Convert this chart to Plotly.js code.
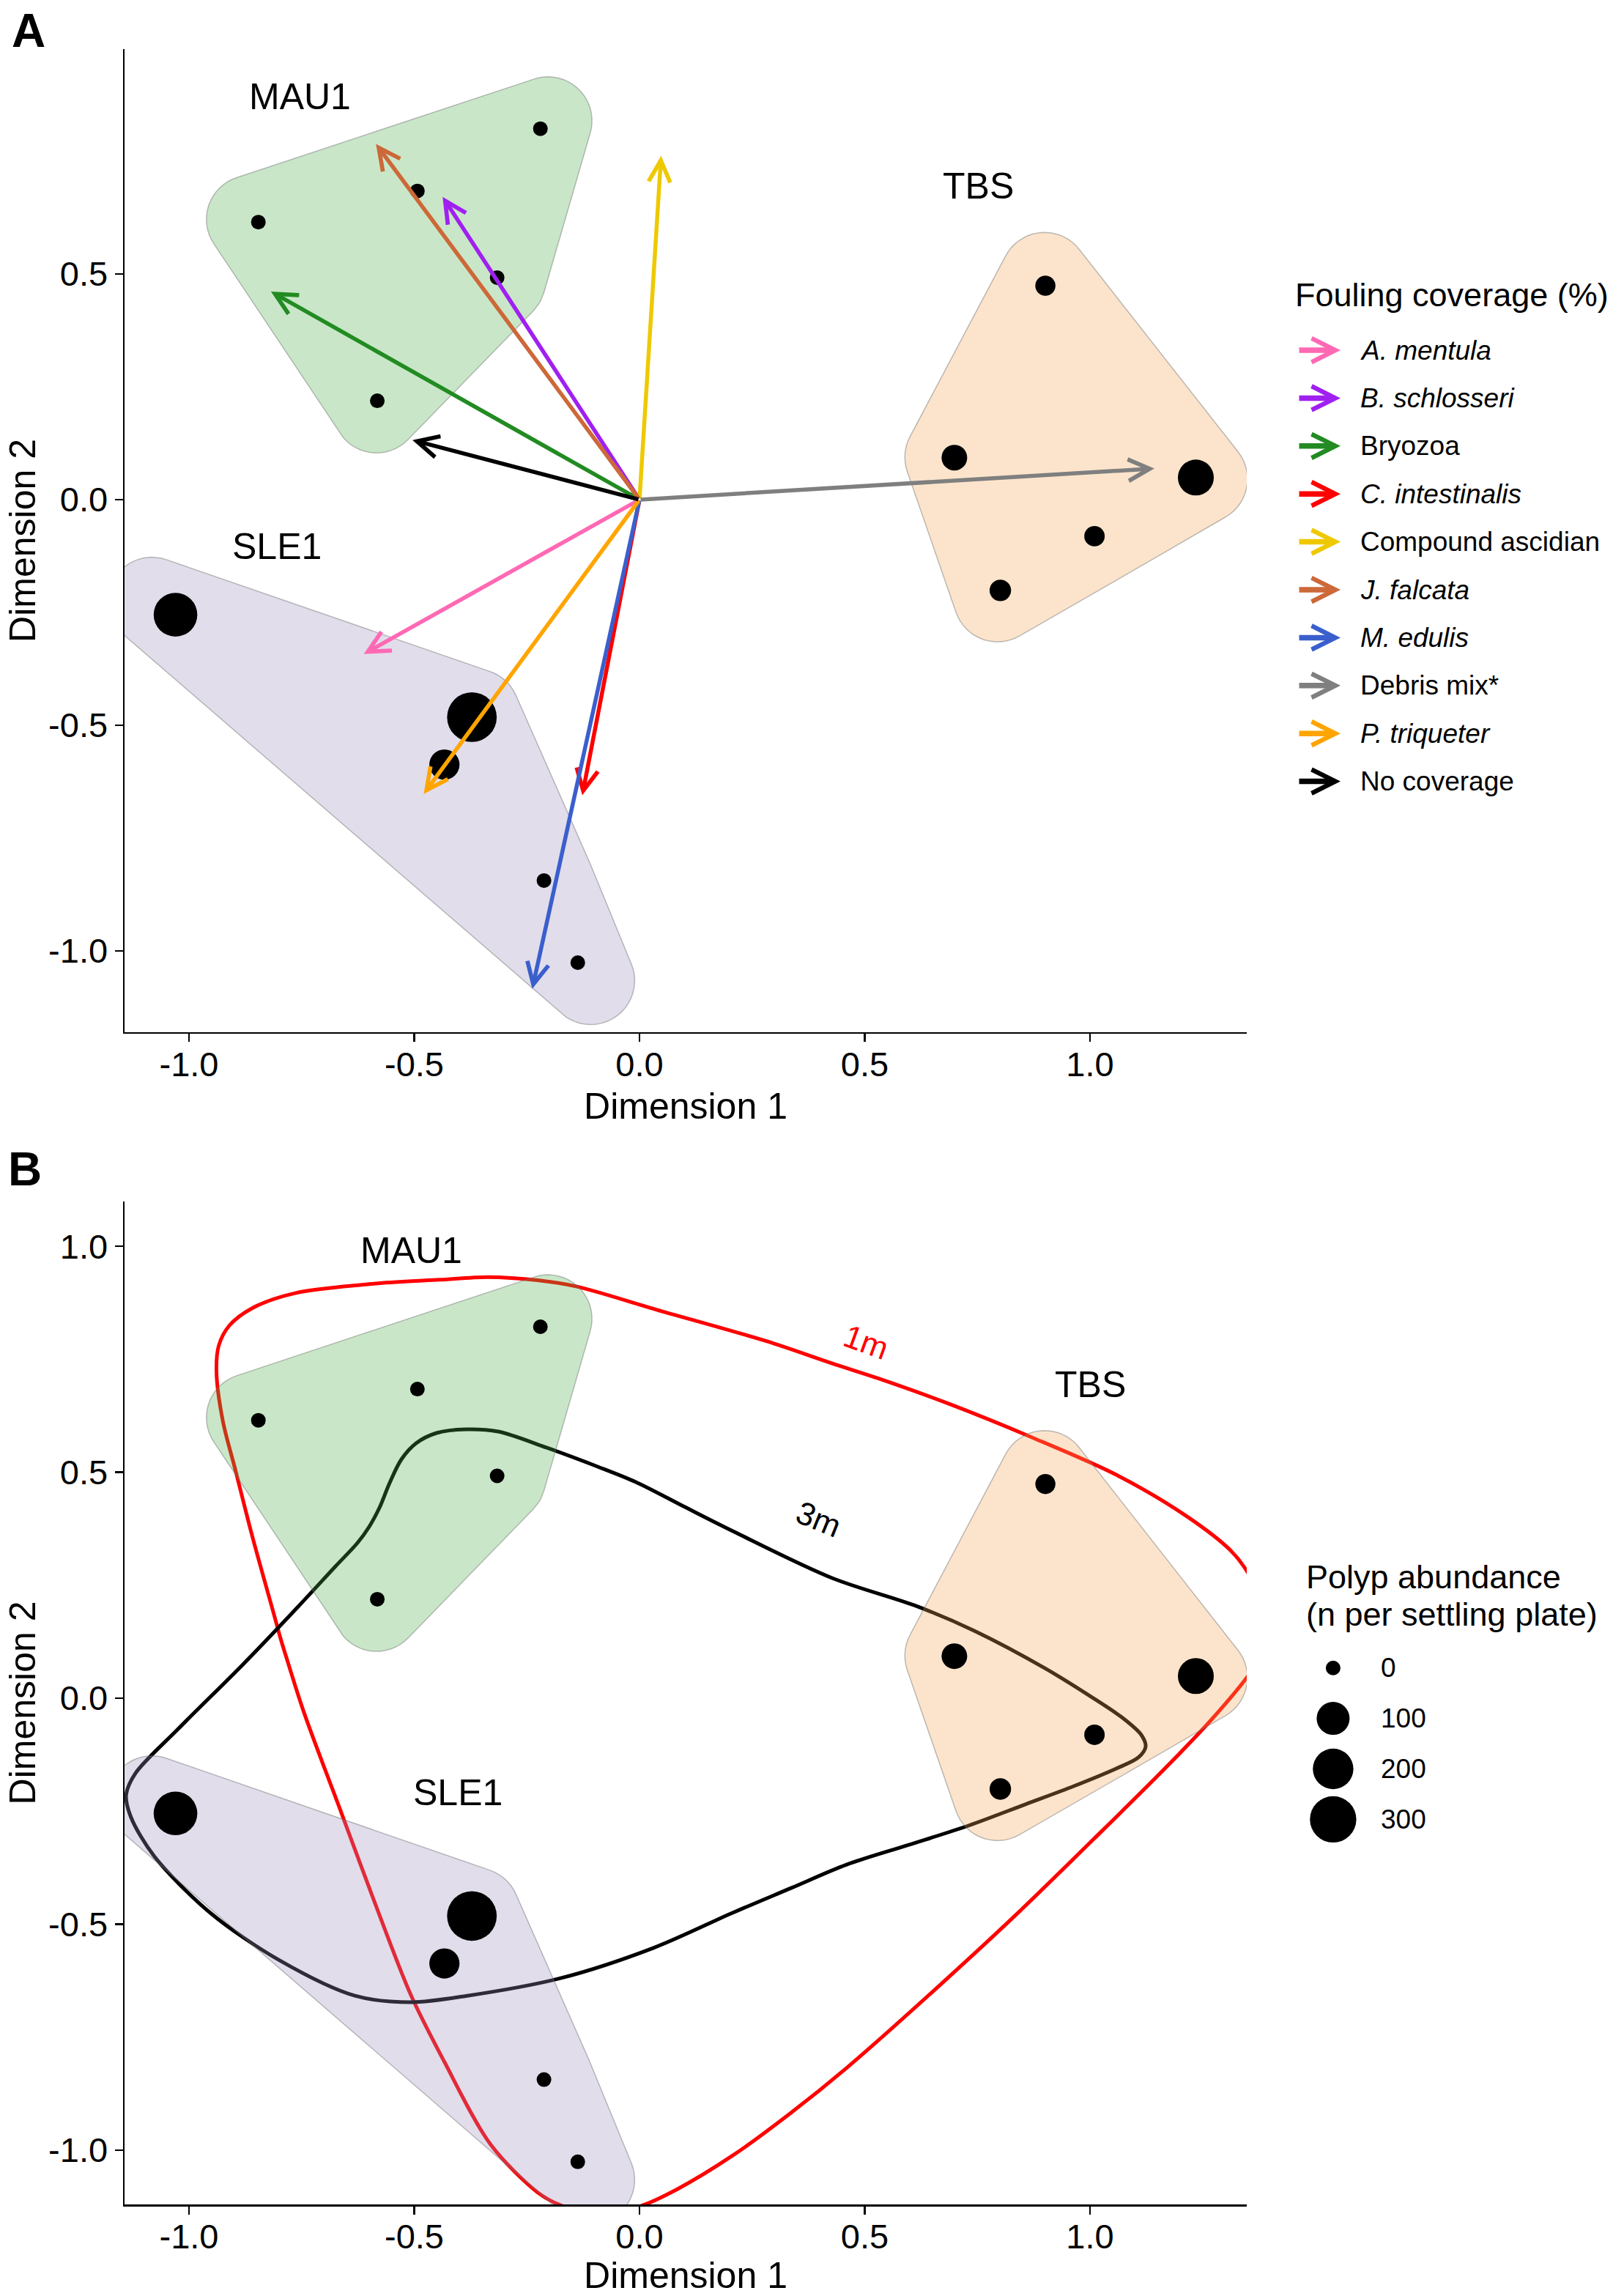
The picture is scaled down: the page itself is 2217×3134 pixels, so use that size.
<!DOCTYPE html>
<html><head><meta charset="utf-8">
<script src="https://cdn.plot.ly/plotly-3.0.1.min.js"></script>
<style>html,body{margin:0;padding:0;background:#fff}</style>
</head><body><div id="chart" style="width:2217px;height:3134px"></div>
<script>
// ---------------- DATA ----------------
const tickVals = [-1, -0.5, 0, 0.5, 1];
const tickLabels = ['-1.0', '-0.5', '0.0', '0.5', '1.0'];

const siteNames = ['MAU1', 'TBS', 'SLE1'];
const siteMAU1_x = [-0.220, -0.846, -0.493, -0.316, -0.582];
const siteMAU1_y = [0.822, 0.615, 0.684, 0.492, 0.219];
const siteMAU1_polyps = [0, 0, 0, 0, 0];
const siteTBS_x = [0.901, 0.699, 1.235, 1.010, 0.801];
const siteTBS_y = [0.474, 0.093, 0.049, -0.081, -0.201];
const siteTBS_polyps = [9, 36, 135, 10, 14];
const siteSLE1_x = [-1.030, -0.372, -0.433, -0.212, -0.137];
const siteSLE1_y = [-0.255, -0.482, -0.587, -0.844, -1.026];
const siteSLE1_polyps = [251, 365, 72, 0, 0];

const foulingNames = ['A. mentula', 'B. schlosseri', 'Bryozoa', 'C. intestinalis', 'Compound ascidian',
  'J. falcata', 'M. edulis', 'Debris mix*', 'P. triqueter', 'No coverage'];
const foulingItalic = [true, true, false, true, false, true, true, false, true, false];
const foulingX = [-0.612, -0.437, -0.818, -0.127, 0.048, -0.585, -0.238, 1.143, -0.479, -0.504];
const foulingY = [-0.342, 0.671, 0.461, -0.655, 0.762, 0.788, -1.084, 0.069, -0.652, 0.132];
const foulingColors = ['#FF69B4', '#A020F0', '#228B22', '#FF0000', '#EEC900',
  '#CD6839', '#3A5FCD', '#7F7F7F', '#FFA500', '#000000'];

const siteLabelA_x = [-0.754, 0.752, -0.805];
const siteLabelA_y = [0.893, 0.695, -0.104];
const siteLabelB_x = [-0.506, 1.001, -0.403];
const siteLabelB_y = [0.990, 0.694, -0.209];

const curve1m_x = [-0.337,-0.226,-0.139,0.037,0.282,0.427,0.532,0.688,0.869,1.059,1.217,1.312,1.349,1.390,1.390,1.349,1.270,1.165,1.007,0.837,0.649,0.460,0.333,0.207,0.083,0.002,-0.086,-0.175,-0.227,-0.331,-0.434,-0.507,-0.590,-0.662,-0.745,-0.785,-0.797,-0.813,-0.860,-0.897,-0.925,-0.939,-0.934,-0.911,-0.860,-0.766,-0.580,-0.444,-0.337];
const curve1m_y = [0.932,0.925,0.911,0.860,0.790,0.741,0.707,0.651,0.578,0.494,0.401,0.327,0.280,0.191,0.110,0.047,-0.047,-0.157,-0.313,-0.478,-0.651,-0.818,-0.920,-1.012,-1.087,-1.124,-1.141,-1.122,-1.093,-0.987,-0.803,-0.658,-0.446,-0.253,-0.031,0.094,0.133,0.191,0.360,0.505,0.614,0.722,0.780,0.824,0.863,0.896,0.918,0.926,0.932];
const curve3m_x = [0.4276,0.6163,0.7431,0.9008,1.0065,1.0748,1.1138,1.1236,1.1073,1.0585,0.9642,0.8569,0.7301,0.5967,0.4589,0.3366,0.2065,0.0322,-0.1750,-0.3824,-0.5070,-0.6315,-0.7974,-0.9528,-1.0774,-1.1291,-1.1395,-1.1187,-1.0254,-0.8803,-0.7561,-0.6748,-0.6260,-0.6000,-0.5772,-0.5545,-0.5285,-0.4959,-0.4504,-0.3854,-0.3138,-0.2065,-0.0927,-0.0081,0.0992,0.2098,0.4276];
const curve3m_y = [0.2659,0.2033,0.1492,0.0658,0.0006,-0.0454,-0.0811,-0.1070,-0.1313,-0.1556,-0.1946,-0.2348,-0.2821,-0.3249,-0.3687,-0.4202,-0.4750,-0.5522,-0.6196,-0.6586,-0.6728,-0.6586,-0.5811,-0.4750,-0.3495,-0.2626,-0.2140,-0.1660,-0.0694,0.0746,0.2043,0.2918,0.3437,0.3794,0.4215,0.4767,0.5285,0.5642,0.5869,0.5950,0.5901,0.5545,0.5123,0.4783,0.4238,0.3684,0.2659];
const depthLabels = ['1m', '3m'];
const depthLabel_x = [0.503, 0.398];
const depthLabel_y = [0.789, 0.396];

const sizeLegendValues = [0, 100, 200, 300];
const sizeLegendLabels = ['0', '100', '200', '300'];

// ---------------- STYLE / HELPERS ----------------
const FONT = 'Liberation Sans, Arial, sans-serif';
const hullFill = ['rgba(77,175,74,0.3)', 'rgba(245,165,85,0.3)', 'rgba(155,141,188,0.3)'];
function pointSize(v) { return 20 + 2.5 * Math.sqrt(v); }

// convex hull, expanded (miter D1 + rounded R) in pixel space
function expandedHull(xs, ys) {
  const SX = 615, SY = 616, D1 = 7, R = 60, STEP = 0.12;
  let pts = xs.map((x, i) => [x * SX, ys[i] * SY]);
  pts.sort((a, b) => a[0] - b[0] || a[1] - b[1]);
  const cross = (o, a, b) => (a[0]-o[0])*(b[1]-o[1]) - (a[1]-o[1])*(b[0]-o[0]);
  const lower = [];
  for (const p of pts) { while (lower.length >= 2 && cross(lower[lower.length-2], lower[lower.length-1], p) <= 0) lower.pop(); lower.push(p); }
  const upper = [];
  for (let i = pts.length - 1; i >= 0; i--) { const p = pts[i]; while (upper.length >= 2 && cross(upper[upper.length-2], upper[upper.length-1], p) <= 0) upper.pop(); upper.push(p); }
  upper.pop(); lower.pop();
  const hull = lower.concat(upper);
  const n = hull.length, ox = [], oy = [];
  for (let i = 0; i < n; i++) {
    const p = hull[(i-1+n)%n], v = hull[i], q = hull[(i+1)%n];
    const e1 = [v[0]-p[0], v[1]-p[1]], e2 = [q[0]-v[0], q[1]-v[1]];
    const l1 = Math.hypot(e1[0], e1[1]), l2 = Math.hypot(e2[0], e2[1]);
    const n1 = [e1[1]/l1, -e1[0]/l1], n2 = [e2[1]/l2, -e2[0]/l2];
    const dot = n1[0]*n2[0] + n1[1]*n2[1];
    const w = [v[0] + D1*(n1[0]+n2[0])/(1+dot), v[1] + D1*(n1[1]+n2[1])/(1+dot)];
    let a1 = Math.atan2(n1[1], n1[0]), a2 = Math.atan2(n2[1], n2[0]);
    while (a2 < a1) a2 += 2*Math.PI;
    const span = a2 - a1;
    const nseg = Math.max(1, Math.ceil(span / STEP));
    for (let k = 0; k <= nseg; k++) {
      const a = a1 + span*k/nseg;
      ox.push((w[0] + R*Math.cos(a))/SX); oy.push((w[1] + R*Math.sin(a))/SY);
    }
  }
  ox.push(ox[0]); oy.push(oy[0]);
  return {x: ox, y: oy};
}

const sitesX = [siteMAU1_x, siteTBS_x, siteSLE1_x];
const sitesY = [siteMAU1_y, siteTBS_y, siteSLE1_y];
const sitesP = [siteMAU1_polyps, siteTBS_polyps, siteSLE1_polyps];

const traces = [];
// Panel B curves (drawn under the hulls)
traces.push({type:'scatter', mode:'lines', x:curve1m_x, y:curve1m_y, xaxis:'x2', yaxis:'y2',
  line:{color:'#FF0000', width:5, shape:'spline', smoothing:0.9}, hoverinfo:'skip', showlegend:false});
traces.push({type:'scatter', mode:'lines', x:curve3m_x, y:curve3m_y, xaxis:'x2', yaxis:'y2',
  line:{color:'#000000', width:5, shape:'spline', smoothing:0.9}, hoverinfo:'skip', showlegend:false});

['', '2'].forEach(ax => {
  for (let s = 0; s < 3; s++) {
    const h = expandedHull(sitesX[s], sitesY[s]);
    traces.push({type:'scatter', mode:'lines', x:h.x, y:h.y, xaxis:'x'+ax, yaxis:'y'+ax,
      fill:'toself', fillcolor:hullFill[s], line:{color:'rgba(110,110,110,0.45)', width:1.5},
      hoverinfo:'skip', showlegend:false, name:siteNames[s]});
  }
  const allX = [].concat(...sitesX), allY = [].concat(...sitesY), allP = [].concat(...sitesP);
  traces.push({type:'scatter', mode:'markers', x:allX, y:allY, xaxis:'x'+ax, yaxis:'y'+ax,
    marker:{color:'#000000', opacity:1, size:allP.map(pointSize), line:{width:0}}, showlegend:false});
});

// size legend (drawn in its own hidden axis)
traces.push({type:'scatter', mode:'markers', x:sizeLegendValues.map(() => 0), y:sizeLegendValues.map((v, i) => i),
  xaxis:'x3', yaxis:'y3', marker:{color:'#000000', opacity:1, size:sizeLegendValues.map(pointSize), line:{width:0}},
  showlegend:false, hoverinfo:'skip'});

const annotations = [];
// fouling vectors
for (let i = 0; i < foulingNames.length; i++) {
  annotations.push({x:foulingX[i], y:foulingY[i], ax:0, ay:0, xref:'x', yref:'y', axref:'x', ayref:'y',
    text:'', showarrow:true, arrowhead:5, arrowsize:1.05, arrowwidth:5.5, arrowcolor:foulingColors[i], standoff:0});
}
// vector legend
const pxX = px => (px - 170) / 2047, pxY = py => (3009 - py) / 2942;
annotations.push({xref:'paper', yref:'paper', x:pxX(1766), y:pxY(402), xanchor:'left', yanchor:'middle',
  text:'Fouling coverage (%)', showarrow:false, font:{size:45, color:'black', family:FONT}});
for (let i = 0; i < foulingNames.length; i++) {
  const yy = pxY(478 + 65.4 * i);
  annotations.push({xref:'paper', yref:'paper', x:pxX(1830), y:yy, ax:-58, ay:0, axref:'pixel', ayref:'pixel',
    text:'', showarrow:true, arrowhead:5, arrowsize:0.85, arrowwidth:7.5, arrowcolor:foulingColors[i], standoff:0});
  annotations.push({xref:'paper', yref:'paper', x:pxX(1855), y:yy, xanchor:'left', yanchor:'middle', showarrow:false,
    text: foulingItalic[i] ? '<i>' + foulingNames[i] + '</i>' : foulingNames[i], font:{size:37, color:'black', family:FONT}});
}
// size legend text
annotations.push({xref:'paper', yref:'paper', x:pxX(1781), y:pxY(2152), xanchor:'left', yanchor:'middle', showarrow:false,
  text:'Polyp abundance', font:{size:45, color:'black', family:FONT}});
annotations.push({xref:'paper', yref:'paper', x:pxX(1781), y:pxY(2203), xanchor:'left', yanchor:'middle', showarrow:false,
  text:'(n per settling plate)', font:{size:45, color:'black', family:FONT}});
for (let i = 0; i < sizeLegendValues.length; i++) {
  annotations.push({xref:'x3', yref:'y3', x:63, y:i, xanchor:'left', yanchor:'middle', showarrow:false,
    text:sizeLegendLabels[i], font:{size:37, color:'black', family:FONT}});
}
// site labels
for (let s = 0; s < 3; s++) {
  annotations.push({xref:'x', yref:'y', x:siteLabelA_x[s], y:siteLabelA_y[s], text:siteNames[s], showarrow:false,
    xanchor:'center', yanchor:'middle', font:{size:50, color:'black', family:FONT}});
  annotations.push({xref:'x2', yref:'y2', x:siteLabelB_x[s], y:siteLabelB_y[s], text:siteNames[s], showarrow:false,
    xanchor:'center', yanchor:'middle', font:{size:50, color:'black', family:FONT}});
}
// depth labels
annotations.push({xref:'x2', yref:'y2', x:depthLabel_x[0], y:depthLabel_y[0], text:depthLabels[0], showarrow:false,
  textangle:20, font:{size:44, color:'#FF0000', family:FONT}});
annotations.push({xref:'x2', yref:'y2', x:depthLabel_x[1], y:depthLabel_y[1], text:depthLabels[1], showarrow:false,
  textangle:22, font:{size:44, color:'black', family:FONT}});
// panel letters
annotations.push({xref:'paper', yref:'paper', x:pxX(39), y:pxY(42), xanchor:'center', yanchor:'middle', text:'<b>A</b>', showarrow:false,
  font:{size:64, color:'black', family:FONT}});
annotations.push({xref:'paper', yref:'paper', x:pxX(34), y:pxY(1596), xanchor:'center', yanchor:'middle', text:'<b>B</b>', showarrow:false,
  font:{size:64, color:'black', family:FONT}});

const axisBase = {showline:true, linecolor:'black', linewidth:2.5, ticks:'outside', ticklen:11, tickwidth:2.5,
  tickcolor:'black', showgrid:false, zeroline:false, tickvals:tickVals, ticktext:tickLabels,
  tickfont:{size:47, color:'black', family:FONT}};
const xTitle = {text:'Dimension 1', font:{size:50, color:'black', family:FONT}, standoff:14};
const yTitle = {text:'Dimension 2', font:{size:50, color:'black', family:FONT}, standoff:2};

const layout = {
  width:2217, height:3134, margin:{l:170, r:0, t:67, b:125}, paper_bgcolor:'white', plot_bgcolor:'white',
  font:{family:FONT, color:'black'}, showlegend:false, hovermode:false,
  xaxis:Object.assign({}, axisBase, {domain:[0, 0.74841], range:[-1.1431, 1.348], anchor:'y', title:xTitle, ticklabelstandoff:-10}),
  yaxis:Object.assign({}, axisBase, {domain:[0.54385, 1], range:[-1.1802, 0.9984], anchor:'x', title:yTitle}),
  xaxis2:Object.assign({}, axisBase, {domain:[0, 0.74841], range:[-1.1431, 1.348], anchor:'y2', title:xTitle, ticklabelstandoff:-10}),
  yaxis2:Object.assign({}, axisBase, {domain:[0, 0.46533], range:[-1.1203, 1.0992], anchor:'x2', title:yTitle}),
  xaxis3:{domain:[0.7767, 0.9917], range:[-60, 380], visible:false, anchor:'y3', fixedrange:true},
  yaxis3:{domain:[0.16621, 0.26139], range:[3.531, -0.533], visible:false, anchor:'x3', fixedrange:true},
  annotations:annotations
};
Plotly.newPlot('chart', traces, layout, {staticPlot:true, displayModeBar:false});
</script></body></html>
